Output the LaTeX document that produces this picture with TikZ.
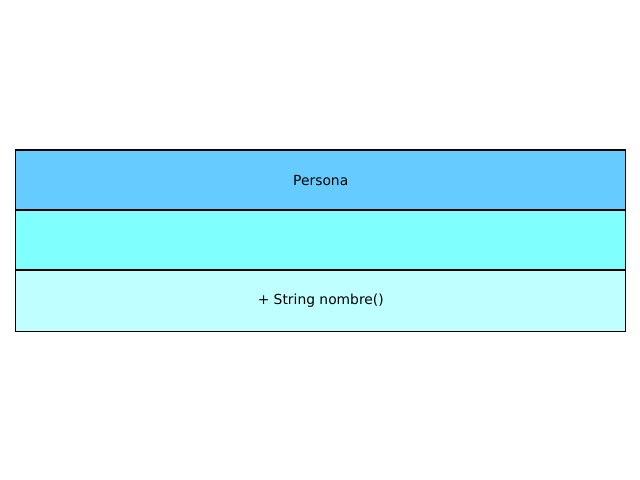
\documentclass[tikz,border=0pt]{standalone}
\usepackage{fontspec}
\setmainfont{DejaVu Sans}
\definecolor{headc}{HTML}{66CCFF}
\definecolor{attrc}{HTML}{80FFFF}
\definecolor{methc}{HTML}{C0FFFF}
\begin{document}
\begin{tikzpicture}[x=0.01in,y=-0.01in,
  part/.style={draw=black, line width=0.8pt, minimum width=6.10in, minimum height=0.60in, inner sep=0pt, anchor=north west, font=\fontsize{10}{12}\selectfont}]
\useasboundingbox (0,0) rectangle (640,480);
\node[part, fill=headc] (head) at (15,149.5) {Persona};
\node[part, fill=attrc] (attr) at (15,209.5) {};
\node[part, fill=methc, minimum height=0.61in] (meth) at (15,269.5) {+ String nombre()};
\end{tikzpicture}
\end{document}
